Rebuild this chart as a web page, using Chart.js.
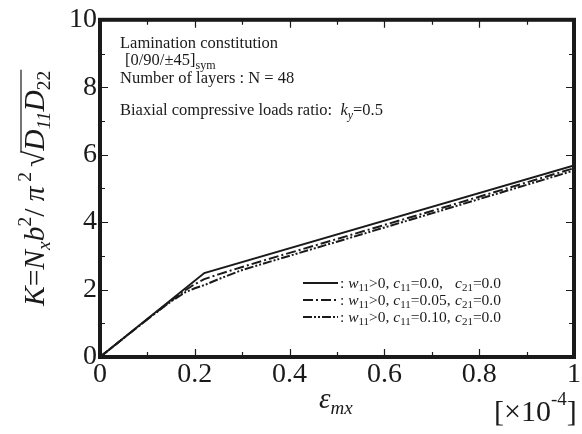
<!DOCTYPE html>
<html>
<head>
<meta charset="utf-8">
<script src="https://cdn.jsdelivr.net/npm/chart.js@4"></script>
<style>
html,body{margin:0;padding:0;background:#fff;}
#wrap{width:582px;height:434px;position:relative;}
</style>
</head>
<body>
<div id="wrap"><canvas id="c" width="582" height="434"></canvas></div>
<script>
// ---- data ----
const strainSolid = [0, 0.22, 1.0];
const kSolid = [0, 2.49, 5.68];
const strainImperfect = [0, 0.1, 0.15, 0.18, 0.2, 0.22, 0.25, 0.3, 0.34, 0.5, 0.7, 1.0];
const kC005 = [0, 1.12, 1.67, 1.98, 2.16, 2.31, 2.45, 2.67, 2.84, 3.5, 4.33, 5.6];
const kC010 = [0, 1.12, 1.65, 1.92, 2.04, 2.13, 2.31, 2.58, 2.75, 3.42, 4.26, 5.53];
const xTickValues = [0, 0.2, 0.4, 0.6, 0.8, 1];
const yTickValues = [0, 2, 4, 6, 8, 10];
const seriesNames = ["c11=0.0", "c11=0.05", "c11=0.10"];

const INK = '#1a1a1a';
const SERIF = '"Liberation Serif", "Times New Roman", Times, serif';

function pts(xs, ys){ return xs.map((x,i)=>({x:x, y:ys[i]})); }

function rich(ctx, parts, x, y){
  let cx = x;
  for (const p of parts){
    ctx.font = (p.i ? 'italic ' : '') + p.s + 'px ' + SERIF;
    ctx.fillText(p.t, cx, y + (p.dy||0));
    cx += ctx.measureText(p.t).width + (p.gap||0);
  }
  return cx;
}

const decor = {
  id: 'decor',
  afterDatasetsDraw(chart){
    const ctx = chart.ctx;
    const a = chart.chartArea;
    const xs = chart.scales.x, ys = chart.scales.y;
    ctx.save();
    ctx.strokeStyle = INK;
    ctx.fillStyle = INK;
    ctx.lineWidth = 1.2;
    ctx.beginPath();
    for (let i = 1; i < 10; i++){
      const px = Math.round(xs.getPixelForValue(i/10)) + 0.5;
      const len = (i % 2 === 0) ? 8 : 5;
      ctx.moveTo(px, a.bottom); ctx.lineTo(px, a.bottom - len);
      ctx.moveTo(px, a.top); ctx.lineTo(px, a.top + len);
    }
    for (let i = 1; i < 10; i++){
      const py = Math.round(ys.getPixelForValue(i)) + 0.5;
      const len = (i % 2 === 0) ? 8 : 5;
      ctx.moveTo(a.left, py); ctx.lineTo(a.left + len, py);
      ctx.moveTo(a.right, py); ctx.lineTo(a.right - len, py);
    }
    ctx.stroke();
    ctx.lineWidth = 4;
    ctx.strokeRect(a.left, a.top, a.right - a.left, a.bottom - a.top);

    ctx.textBaseline = 'alphabetic';
    ctx.textAlign = 'left';
    const F = 16.5;
    rich(ctx, [{t:'Lamination constitution', s:F}], 120, 48);
    rich(ctx, [{t:'[0/90/\u00B145]', s:F}, {t:'sym', s:12, dy:4}], 125, 65);
    rich(ctx, [{t:'Number of layers : N = 48', s:F}], 120, 83);
    rich(ctx, [{t:'Biaxial compressive loads ratio:  ', s:F}, {t:'k', i:true, s:F}, {t:'y', i:true, s:12, dy:4}, {t:'=0.5', s:F}], 120, 115);

    const rows = [
      {y:283, dash:[], c:'0.0,'},
      {y:300, dash:[10,3,2,3], c:'0.05,'},
      {y:317, dash:[9,2,2,2,2,2], c:'0.10,'}
    ];
    const LF = 15.5, LS = 11;
    for (const r of rows){
      ctx.lineWidth = 2;
      ctx.setLineDash(r.dash);
      ctx.beginPath(); ctx.moveTo(303, r.y); ctx.lineTo(338, r.y); ctx.stroke();
      ctx.setLineDash([]);
      const by = r.y + 5;
      rich(ctx, [{t:': ', s:LF}, {t:'w', i:true, s:LF}, {t:'11', s:LS, dy:3}, {t:'>0, ', s:LF}, {t:'c', i:true, s:LF}, {t:'11', s:LS, dy:3}, {t:'=' + r.c, s:LF}], 340, by);
      rich(ctx, [{t:'c', i:true, s:LF}, {t:'21', s:LS, dy:3}, {t:'=0.0', s:LF}], 455, by);
    }

    rich(ctx, [{t:'\u03B5', i:true, s:29}, {t:'mx', i:true, s:19, dy:6}], 319, 408);
    rich(ctx, [{t:'[\u00D710', s:30}, {t:'-4', s:19, dy:-16}, {t:']', s:30}], 494, 421);

    const M = 29.5, S = 19.5;
    const parts = [
      {t:'K', i:true, s:M}, {t:'=', s:M}, {t:'N', i:true, s:M}, {t:'x', i:true, s:S, dy:6},
      {t:'b', i:true, s:M}, {t:'2', s:S, dy:-13}, {t:'/ ', s:M}, {t:'\u03C0', i:true, s:M},
      {t:' 2 ', s:S, dy:-13}, {t:'\u221A', s:M}
    ];
    const parts2 = [
      {t:'D', i:true, s:M}, {t:'11', i:true, s:S, dy:6}, {t:'D', i:true, s:M}, {t:'22', s:S, dy:6}
    ];
    ctx.translate(44, 306);
    ctx.rotate(-Math.PI/2);
    const e1 = rich(ctx, parts, 0, 0);
    const e2 = rich(ctx, parts2, e1, 0);
    ctx.lineWidth = 1.2;
    ctx.beginPath(); ctx.moveTo(e1 - 2, -23); ctx.lineTo(e2 + 1, -23); ctx.stroke();
    ctx.restore();
  }
};

const ds = (label, data, dash) => ({
  label, data, borderColor: INK, borderWidth: 2, borderDash: dash,
  pointRadius: 0, tension: 0, fill: false
});

function build(){
  new Chart(document.getElementById('c'), {
    type: 'line',
    data: {
      datasets: [
        ds(seriesNames[0], pts(strainSolid, kSolid), []),
        ds(seriesNames[1], pts(strainImperfect, kC005), [10,3,2,3]),
        ds(seriesNames[2], pts(strainImperfect, kC010), [9,2,2,2,2,2])
      ]
    },
    options: {
      responsive: false,
      animation: false,
      events: [],
      layout: { padding: { top: 18, right: 7, left: 0, bottom: 0 } },
      plugins: { legend: { display: false }, tooltip: { enabled: false } },
      scales: {
        x: {
          type: 'linear', min: 0, max: 1,
          grid: { display: false, drawTicks: false },
          border: { display: false },
          afterFit: s => { s.height = 77; },
          afterBuildTicks: s => { s.ticks = xTickValues.map(v => ({value: v})); },
          ticks: {
            color: INK, padding: 1,
            font: { family: SERIF, size: 28 },
            maxRotation: 0,
            callback: v => (v === 0 || v === 1) ? String(v) : v.toFixed(1)
          }
        },
        y: {
          type: 'linear', min: 0, max: 10,
          grid: { display: false, drawTicks: false },
          border: { display: false },
          afterFit: s => { s.width = 100; },
          afterBuildTicks: s => { s.ticks = yTickValues.map(v => ({value: v})); },
          ticks: {
            color: INK, padding: 3,
            font: { family: SERIF, size: 28 },
            callback: v => String(v)
          }
        }
      }
    },
    plugins: [decor]
  });
}

const loads = document.fonts ? Promise.all([
  document.fonts.load('26px "Liberation Serif"'),
  document.fonts.load('italic 26px "Liberation Serif"')
]).catch(()=>{}) : Promise.resolve();
loads.then(build, build);
</script>
</body>
</html>
